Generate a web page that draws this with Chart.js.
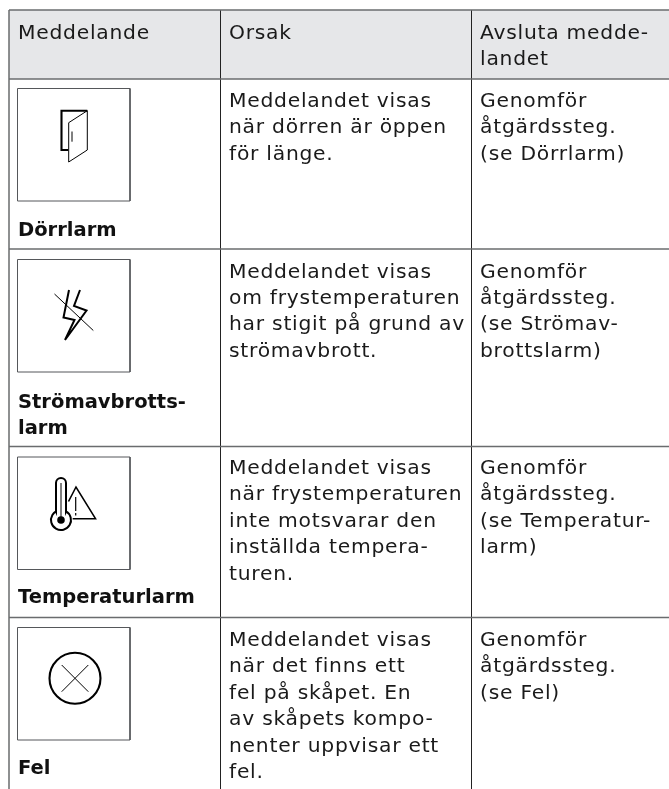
<!DOCTYPE html>
<html lang="sv">
<head>
<meta charset="utf-8">
<title>Meddelanden</title>
<script src="https://cdn.jsdelivr.net/npm/chart.js@4"></script>
<style>
    html, body { margin: 0; padding: 0; background: #FFFFFF; }
    #wrap { width: 669px; height: 789px; }
</style>
</head>
<body>
<div id="wrap"><canvas id="data"></canvas></div>
<script>
// table content
const headers = [["Meddelande"], ["Orsak"], ["Avsluta medde-", "landet"]]
const messages = [["Dörrlarm"], ["Strömavbrotts-", "larm"], ["Temperaturlarm"], ["Fel"]]
const causes = [
    ["Meddelandet visas", "när dörren är öppen", "för länge."],
    ["Meddelandet visas", "om frystemperaturen", "har stigit på grund av", "strömavbrott."],
    ["Meddelandet visas", "när frystemperaturen", "inte motsvarar den", "inställda tempera-", "turen."],
    ["Meddelandet visas", "när det finns ett", "fel på skåpet. En", "av skåpets kompo-", "nenter uppvisar ett", "fel."]
]
const actions = [
    ["Genomför", "åtgärdssteg.", "(se Dörrlarm)"],
    ["Genomför", "åtgärdssteg.", "(se Strömav-", "brottslarm)"],
    ["Genomför", "åtgärdssteg.", "(se Temperatur-", "larm)"],
    ["Genomför", "åtgärdssteg.", "(se Fel)"]
]

// layout of the table, in page pixels
const columnLines = [9, 220.5, 471.5]
const rowLines = [10, 79, 249, 446.5, 617.5]
const textX = [18, 229, 480]
const rowBaselines = [107, 277.5, 474, 646]
const labelBaselines = [236, 408, 603, 774]
const boxTops = [88.5, 259.5, 457, 627.5]
const lineHeight = 26.4
const boxSize = 112.5
const font = "'DejaVu Sans'"
const spacing = "0.75px"

const rule = (x1, y1, x2, y2, color, width) => ({
    data: [{x: x1, y: y1}, {x: x2, y: y2}],
    borderColor: color,
    borderWidth: width,
    pointRadius: 0,
    showLine: true
})

const datasets = []
rowLines.forEach(y => datasets.push(rule(9, y, 669, y, "#6A6C6E", 1.5)))
columnLines.forEach((x, i) => datasets.push(rule(x, 10, x, 789, i === 0 ? "#6A6C6E" : "#222222", i === 0 ? 1.5 : 1)))
boxTops.forEach(y => {
    const box = rule(17.5, y, 130, y, "#55575A", 1)
    box.data = [{x: 17.5, y: y}, {x: 130, y: y}, {x: 130, y: y + boxSize}, {x: 17.5, y: y + boxSize}, {x: 17.5, y: y}]
    datasets.push(box)
})

function stroke(ctx, points, width, close) {
    ctx.lineWidth = width
    ctx.beginPath()
    points.forEach((p, i) => i === 0 ? ctx.moveTo(p[0], p[1]) : ctx.lineTo(p[0], p[1]))
    if (close) ctx.closePath()
    ctx.stroke()
}

function drawIcons(ctx) {
    ctx.strokeStyle = "#000000"
    ctx.fillStyle = "#000000"
    ctx.lineJoin = "miter"

    // door
    stroke(ctx, [[87.3, 110.7], [61.5, 110.7], [61.5, 150], [68.3, 150]], 2.1)
    stroke(ctx, [[68.7, 122.7], [87.3, 110.7], [87.3, 150], [68.7, 162]], 1, true)
    stroke(ctx, [[72, 131.5], [72, 141.7]], 1)

    // bolt
    stroke(ctx, [[69, 290], [63.5, 317.5], [74.5, 320], [65, 340], [86.5, 310.5], [74, 306], [80, 290]], 2)
    stroke(ctx, [[54.5, 294], [93.3, 330.5]], 1)

    // thermometer
    ctx.lineWidth = 2
    ctx.beginPath()
    ctx.moveTo(56, 511.5)
    ctx.lineTo(56, 483)
    ctx.arc(61, 483, 5, Math.PI, 0)
    ctx.lineTo(66, 511.5)
    ctx.arc(61, 520, 10, -Math.PI / 2 + 0.53, -Math.PI / 2 - 0.53)
    ctx.closePath()
    ctx.stroke()
    ctx.beginPath()
    ctx.arc(61, 520, 3.8, 0, Math.PI * 2)
    ctx.fill()
    stroke(ctx, [[61, 483], [61, 518]], 1)

    // warning triangle
    stroke(ctx, [[68.5, 501.5], [76, 487], [95.5, 518.7], [72.7, 518.7]], 1.6)
    stroke(ctx, [[75.7, 497], [75.7, 511]], 1.2)
    stroke(ctx, [[75.7, 513], [75.7, 515.5]], 1.2)

    // error
    ctx.beginPath()
    ctx.lineWidth = 2.1
    ctx.arc(75, 678.3, 25.5, 0, Math.PI * 2)
    ctx.stroke()
    stroke(ctx, [[61.7, 665], [88.3, 691.7]], 1)
    stroke(ctx, [[88.3, 665], [61.7, 691.7]], 1)
}

function drawLines(ctx, lines, x, y) {
    lines.forEach((line, i) => ctx.fillText(line, x, y + i * lineHeight))
}

const tablePlugin = {
    id: "table",
    beforeDatasetsDraw(chart) {
        const ctx = chart.ctx
        ctx.save()
        ctx.fillStyle = "#E6E7E9"
        ctx.fillRect(9, 10, 660, 69)
        ctx.restore()
    },
    afterDatasetsDraw(chart) {
        const ctx = chart.ctx
        ctx.save()
        drawIcons(ctx)
        ctx.textAlign = "left"
        ctx.textBaseline = "alphabetic"
        ctx.fillStyle = "#1A1A1A"
        ctx.letterSpacing = spacing
        ctx.font = "400 20.3px " + font
        headers.forEach((lines, i) => drawLines(ctx, lines, textX[i], 39))
        causes.forEach((lines, i) => drawLines(ctx, lines, textX[1], rowBaselines[i]))
        actions.forEach((lines, i) => drawLines(ctx, lines, textX[2], rowBaselines[i]))
        ctx.font = "700 19.5px " + font
        ctx.letterSpacing = "0px"
        ctx.fillStyle = "#111111"
        messages.forEach((lines, i) => drawLines(ctx, lines, textX[0], labelBaselines[i]))
        ctx.restore()
    }
}

const container = document.getElementById("data")

const config = {
    type: "scatter",
    data: { datasets: datasets },
    options: {
        responsive: true,
        maintainAspectRatio: false,
        animation: false,
        layout: { padding: 0 },
        events: [],
        scales: {
            x: { display: false, min: 0, max: 669 },
            y: { display: false, min: 0, max: 789, reverse: true }
        },
        plugins: {
            legend: { display: false },
            tooltip: { enabled: false },
            title: { display: false }
        }
    },
    plugins: [tablePlugin]
}

const myChart = new Chart(container, config)
</script>
</body>
</html>
